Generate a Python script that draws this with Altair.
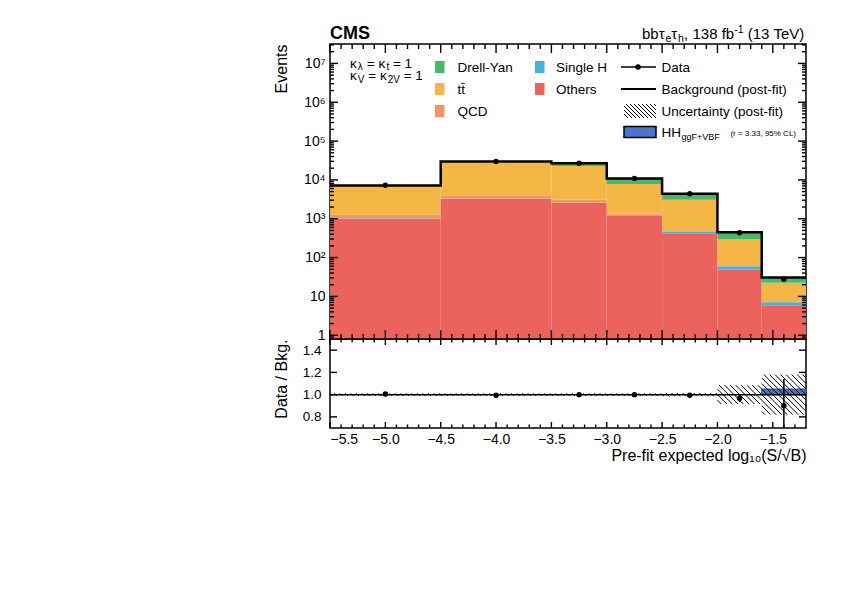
import math
import altair as alt
import pandas as pd

FONT = "Liberation Sans"
W, H_MAIN, H_RATIO = 476, 295, 89

# ---------------- data ----------------
bin_edges = [-5.5, -4.5, -3.5, -3.0, -2.5, -2.0, -1.6, -1.2]
bin_centers = [-5.0, -4.0, -3.25, -2.75, -2.25, -1.8, -1.4]

others = [1020, 3270, 2550, 1210, 422, 49, 5.9]
single_h = [10, 30, 30, 60, 50, 11, 1.2]
qcd = [240, 680, 500, 90, 15, 1, 0.1]
ttbar = [5830, 25700, 19900, 6440, 2590, 241, 15.3]
drell_yan = [100, 300, 4000, 3140, 1320, 148, 8.1]
data_obs = [7250, 29800, 27000, 10950, 4380, 435, 27.5]

ratio_vals = [1.005, 0.995, 1.0, 1.0, 0.995, 0.967, 0.90]
ratio_errs = [0.004, 0.004, 0.005, 0.008, 0.012, 0.035, 0.24]
unc_half = [0.012, 0.012, 0.012, 0.012, 0.015, 0.085, 0.18]
hh_ratio = [0.0, 0.0, 0.0, 0.0, 0.0, 0.0, 0.05]

comp_names = ["Others", "Single H", "QCD", "tt", "Drell-Yan"]
comp_values = [others, single_h, qcd, ttbar, drell_yan]
comp_colors = ["#ec625c", "#3fb4de", "#f29464", "#f4b644", "#48b96a"]
hh_color = "#4a73c9"

x_major = [-5.5, -5.0, -4.5, -4.0, -3.5, -3.0, -2.5, -2.0, -1.5]
ratio_y_major = [0.8, 1.0, 1.2, 1.4]
log_major = [1, 10, 100, 1e3, 1e4, 1e5, 1e6, 1e7]

X_MIN, X_MAX = -5.5, -1.2
Y_MIN, Y_MAX = 0.8, 10 ** 7.5
R_MIN, R_MAX = 0.7, 1.5

# ---------------- scales / axes ----------------
XS = alt.Scale(domain=[X_MIN, X_MAX], nice=False, zero=False)
YS_MAIN = alt.Scale(type="log", domain=[Y_MIN, Y_MAX], nice=False, clamp=True)
YS_RATIO = alt.Scale(domain=[R_MIN, R_MAX], nice=False, zero=False)

sup = "['', '', '\u00b2', '\u00b3', '\u2074', '\u2075', '\u2076', '\u2077']"
main_y_axis = alt.Axis(
    values=log_major,
    labelExpr="datum.value < 5 ? '1' : datum.value < 50 ? '10' : '10' + " + sup + "[round(log(datum.value) / LN10)]",
    ticks=False, domain=False, grid=False,
    labelFont=FONT, labelFontSize=14, labelPadding=5, labelColor="black",
    title="Events", titleFont=FONT, titleFontSize=16, titleFontWeight="normal",
    titleColor="black", titleAnchor="end", titleX=-44, titleBaseline="alphabetic",
)
ratio_y_axis = alt.Axis(
    values=ratio_y_major, format=".1f",
    ticks=False, domain=False, grid=False,
    labelFont=FONT, labelFontSize=13.5, labelPadding=9, labelColor="black",
    title="Data / Bkg.", titleFont=FONT, titleFontSize=16, titleFontWeight="normal",
    titleColor="black", titleAnchor="end", titleX=-44, titleBaseline="alphabetic",
)
ratio_x_axis = alt.Axis(
    values=x_major, format=".1f",
    ticks=False, domain=False, grid=False,
    labelFont=FONT, labelFontSize=14, labelPadding=4, labelColor="black",
    title="Pre-fit expected log\u2081\u2080(S/\u221aB)", titleFont=FONT, titleFontSize=16,
    titleFontWeight="normal", titleColor="black", titleAnchor="end",
    titleY=32, titleBaseline="alphabetic",
)


def xm(f):
    return alt.X(f"{f}:Q", scale=XS, axis=None)


def ym(f):
    return alt.Y(f"{f}:Q", scale=YS_MAIN, axis=main_y_axis)


def xr(f):
    return alt.X(f"{f}:Q", scale=XS, axis=ratio_x_axis)


def yr(f):
    return alt.Y(f"{f}:Q", scale=YS_RATIO, axis=ratio_y_axis)


dummy = pd.DataFrame({"d": [0]})

CW = {" ": 278, "=": 584, "-": 333, ",": 278, ".": 278, "(": 333, ")": 333, "+": 584,
      "%": 889, "t": 278, "f": 278, "r": 333, "i": 222, "l": 222, "k": 500, "s": 500,
      "V": 667, "B": 667, "T": 611, "F": 611, "H": 722, "C": 722, "L": 556,
      "\u03ba": 580, "\u03bb": 540, "\u03c4": 450, "e": 556, "b": 556, "h": 580,
      "g": 556, "v": 500}


def tw(s, fs):
    return sum(CW.get(ch, 556) for ch in s) * fs / 1000.0


def txt(s, x, y, fs, bold=False, align="left"):
    return alt.Chart(dummy).mark_text(
        align=align, baseline="alphabetic", font=FONT, fontSize=fs,
        fontWeight="bold" if bold else "normal", color="black",
    ).encode(x=alt.value(x), y=alt.value(y), text=alt.value(s))


def rich(pieces, x0, y0, right=False):
    """Draw text made of pieces (text, size, dy); spaces become gaps between words."""
    tokens = []
    for t, fs, dy in pieces:
        for j, word in enumerate(t.split(" ")):
            if j > 0:
                tokens.append((None, fs, dy))
            if word:
                tokens.append((word, fs, dy))
    total = sum(tw(t if t else " ", fs) for t, fs, dy in tokens)
    x = x0 - total if right else x0
    out = []
    for t, fs, dy in tokens:
        if t:
            out.append(txt(t, x, y0 + dy, fs))
            x += tw(t, fs)
        else:
            x += tw(" ", fs)
    return out


def vrule(x1, x2, y1, y2, width=1.0, color="black"):
    return alt.Chart(dummy).mark_rule(color=color, strokeWidth=width).encode(
        x=alt.value(x1), x2=alt.value(x2), y=alt.value(y1), y2=alt.value(y2))


def edge_ticks(xenc, yenc, ylog, ymin, ymax, ppy, xvals_maj, xvals_min, xl_maj, xl_min,
               yvals_maj, yvals_min, yl_maj, yl_min):
    """Inward ticks on the four frame edges (ROOT style), placed in data space."""
    ppx = W / (X_MAX - X_MIN)
    rows = []
    for vals, ln in ((xvals_maj, xl_maj), (xvals_min, xl_min)):
        for v in vals:
            if ylog:
                d = 10 ** (ln / ppy)
                rows.append(dict(xa=v, xb=v, ya=ymin, yb=ymin * d))
                rows.append(dict(xa=v, xb=v, ya=ymax, yb=ymax / d))
            else:
                d = ln / ppy
                rows.append(dict(xa=v, xb=v, ya=ymin, yb=ymin + d))
                rows.append(dict(xa=v, xb=v, ya=ymax, yb=ymax - d))
    for vals, ln in ((yvals_maj, yl_maj), (yvals_min, yl_min)):
        for v in vals:
            d = ln / ppx
            rows.append(dict(xa=X_MIN, xb=X_MIN + d, ya=v, yb=v))
            rows.append(dict(xa=X_MAX, xb=X_MAX - d, ya=v, yb=v))
    return alt.Chart(pd.DataFrame(rows)).mark_rule(color="black", strokeWidth=1.4).encode(
        x=xenc("xa"), x2="xb", y=yenc("ya"), y2="yb")


x_minor = [round(-5.5 + 0.1 * i, 2) for i in range(1, 43)]
x_minor = [v for v in x_minor if all(abs(v - m) > 1e-6 for m in x_major)]
log_minor = [m * 10 ** k for k in range(-1, 8) for m in range(2, 10)]
log_minor = [v for v in log_minor if Y_MIN < v < Y_MAX]

# ---------------- main panel ----------------
rows = []
totals = []
for i in range(len(bin_centers)):
    base = 0.0
    for name, vals in zip(comp_names, comp_values):
        rows.append(dict(comp=name, lo=bin_edges[i], hi=bin_edges[i + 1],
                         y0=max(base, 1e-3), y1=base + vals[i]))
        base += vals[i]
    totals.append(base)
stack_df = pd.DataFrame(rows)

stack = alt.Chart(stack_df).mark_rect(strokeWidth=0).encode(
    x=xm("lo"), x2="hi", y=ym("y1"), y2="y0",
    color=alt.Color("comp:N", scale=alt.Scale(domain=comp_names, range=comp_colors), legend=None),
)
step_df = pd.DataFrame({"x": bin_edges, "y": totals + [totals[-1]]})
outline = alt.Chart(step_df).mark_line(interpolate="step-after", color="black", strokeWidth=2.5).encode(
    x=xm("x"), y=ym("y"))
pts_df = pd.DataFrame({"x": bin_centers, "y": data_obs})
points = alt.Chart(pts_df).mark_circle(size=30, color="black", opacity=1).encode(x=xm("x"), y=ym("y"))

ppy_main = H_MAIN / math.log10(Y_MAX / Y_MIN)
main_layers = [stack, outline, points,
               edge_ticks(xm, ym, True, Y_MIN, Y_MAX, ppy_main, x_major, x_minor, 9, 5,
                          log_major, log_minor, 8, 4)]

# header
main_layers.append(txt("CMS", 0, -5, 18, bold=True))
main_layers += rich([("bb\u03c4", 15, 0), ("e", 10.5, 3), ("\u03c4", 15, 0), ("h", 10.5, 3),
                     (", 138 fb", 15, 0), ("-1", 10.5, -6), (" (13 TeV)", 15, 0)], W, -5, right=True)
# kappa text
main_layers += rich([("\u03ba", 13.5, 0), ("\u03bb", 10, 2.5), (" = \u03ba", 13.5, 0), ("t", 10, 2.5),
                     (" = 1", 13.5, 0)], 20, 23.5)
main_layers += rich([("\u03ba", 13.5, 0), ("V", 10, 2.5), (" = \u03ba", 13.5, 0), ("2V", 10, 2.5),
                     (" = 1", 13.5, 0)], 20, 36)

# legend
LFS = 13.5
row_y = [23, 45, 67, 88]


def swatch(x, yc, color):
    return alt.Chart(dummy).mark_rect(color=color, strokeWidth=0).encode(
        x=alt.value(x), x2=alt.value(x + 9.5), y=alt.value(yc - 6), y2=alt.value(yc + 6))


legend_c1 = [("Drell-Yan", "#48b96a"), ("tt\u0304", "#f4b644"), ("QCD", "#f29464")]
for (lab, col), yc in zip(legend_c1, row_y):
    main_layers.append(swatch(105, yc, col))
    main_layers.append(txt(lab, 127.5, yc + 0.36 * LFS, LFS))
legend_c2 = [("Single H", "#3fb4de"), ("Others", "#ec625c")]
for (lab, col), yc in zip(legend_c2, row_y):
    main_layers.append(swatch(205, yc, col))
    main_layers.append(txt(lab, 226, yc + 0.36 * LFS, LFS))

main_layers.append(vrule(291, 326, row_y[0], row_y[0], 1.5))
main_layers.append(alt.Chart(dummy).mark_circle(size=30, color="black", opacity=1).encode(
    x=alt.value(308), y=alt.value(row_y[0])))
main_layers.append(txt("Data", 331.5, row_y[0] + 0.36 * LFS, LFS))
main_layers.append(vrule(291, 326, row_y[1], row_y[1], 2))
main_layers.append(txt("Background (post-fit)", 331.5, row_y[1] + 0.36 * LFS, LFS))
hx0, hx1, hy0, hy1 = 294, 326, row_y[2] - 7, row_y[2] + 7
a = hx0 - (hy1 - hy0)
while a < hx1:
    xa = max(hx0, a)
    xb = min(hx1, a + (hy1 - hy0))
    if xb > xa:
        main_layers.append(vrule(xa, xb, hy0 + (xa - a), hy0 + (xb - a), 1))
    a += 4
main_layers.append(txt("Uncertainty (post-fit)", 331.5, row_y[2] + 0.36 * LFS, LFS))
main_layers.append(alt.Chart(dummy).mark_rect(color=hh_color, stroke="black", strokeWidth=1.5).encode(
    x=alt.value(294), x2=alt.value(326), y=alt.value(row_y[3] - 5.5), y2=alt.value(row_y[3] + 5.5)))
main_layers.append(txt("HH", 331.5, row_y[3] + 0.36 * LFS, LFS))
main_layers.append(txt("ggF+VBF", 331.5 + tw("HH", LFS) + 0.5, row_y[3] + 0.36 * LFS + 3.5, 9))
main_layers += rich([("(r = 3.33, 95% CL)", 8, 0)], 466, row_y[3] + 0.36 * LFS - 1, right=True)

main = alt.layer(*main_layers).properties(width=W, height=H_MAIN)

# ---------------- ratio panel ----------------
r_layers = []
hh_rows = [dict(lo=bin_edges[i], hi=bin_edges[i + 1], y0=1.0, y1=1.0 + hh_ratio[i])
           for i in range(len(hh_ratio)) if hh_ratio[i] > 0]
r_layers.append(alt.Chart(pd.DataFrame(hh_rows)).mark_rect(color=hh_color, stroke="#2b4a94", strokeWidth=1).encode(
    x=xr("lo"), x2="hi", y=yr("y0"), y2="y1"))

hatch = []
step = 0.05
for i in range(len(unc_half)):
    x0, x1, h = bin_edges[i], bin_edges[i + 1], unc_half[i]
    for k in range(-20, 120):
        c = -5.5 + k * step
        xa = max(x0, c - h)
        xb = min(x1, c + h)
        if xb > xa + 1e-9:
            hatch.append(dict(xa=xa, xb=xb, ya=1 - (xa - c), yb=1 - (xb - c)))
r_layers.append(alt.Chart(pd.DataFrame(hatch)).mark_rule(color="black", strokeWidth=1).encode(
    x=xr("xa"), x2="xb", y=yr("ya"), y2="yb"))
r_layers.append(alt.Chart(pd.DataFrame({"xa": [X_MIN], "xb": [X_MAX], "v": [1.0]})).mark_rule(
    color="black", strokeWidth=1.5).encode(x=xr("xa"), x2="xb", y=yr("v")))
err_df = pd.DataFrame({"x": bin_centers,
                       "lo": [v - e for v, e in zip(ratio_vals, ratio_errs)],
                       "hi": [v + e for v, e in zip(ratio_vals, ratio_errs)],
                       "v": ratio_vals})
r_layers.append(alt.Chart(err_df).mark_rule(color="black", strokeWidth=1.5, clip=True).encode(
    x=xr("x"), y=yr("lo"), y2="hi"))
r_layers.append(alt.Chart(err_df).mark_circle(size=30, color="black", opacity=1).encode(
    x=xr("x"), y=yr("v")))
r_layers.append(edge_ticks(xr, yr, False, R_MIN, R_MAX, H_RATIO / (R_MAX - R_MIN),
                           x_major, x_minor, 6, 3.5, ratio_y_major, [], 7, 4))

ratio = alt.layer(*r_layers).properties(width=W, height=H_RATIO)

chart = alt.vconcat(main, ratio, spacing=0, bounds="flush").properties(
    padding={"left": 264, "top": 16, "right": 5, "bottom": 5}
).configure(font=FONT).configure_view(stroke="black", strokeWidth=1.5)

chart.save("out.html", embed_options={"renderer": "svg", "actions": False})
